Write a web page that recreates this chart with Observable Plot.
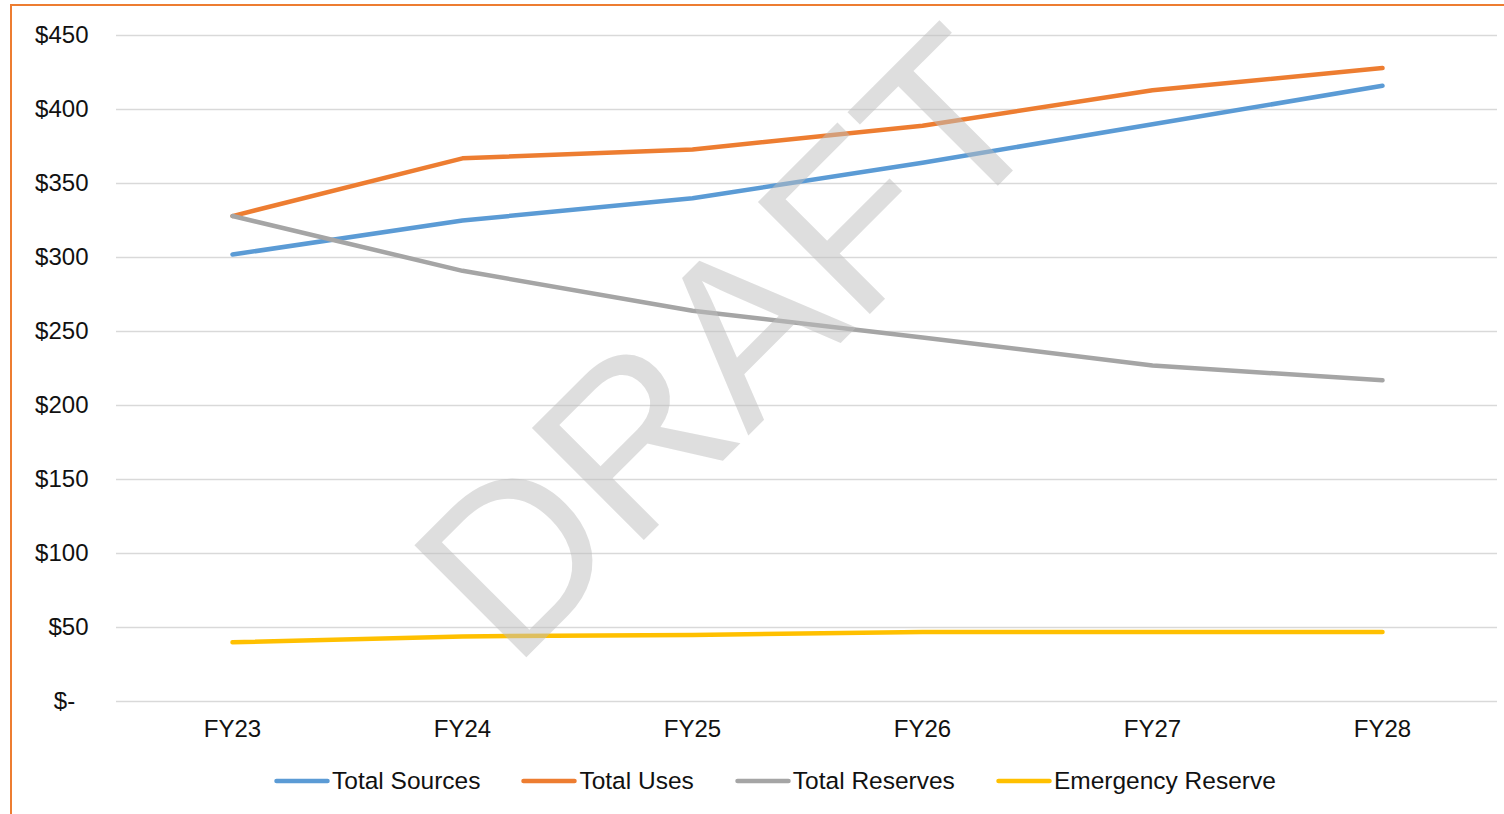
<!DOCTYPE html>
<html>
<head>
<meta charset="utf-8">
<script src="https://cdn.jsdelivr.net/npm/d3@7"></script>
<script src="https://cdn.jsdelivr.net/npm/@observablehq/plot@0.6"></script>
<style>
  html, body { margin: 0; padding: 0; background: #fff; overflow: hidden; }
  body { width: 1504px; height: 814px; position: relative; font-family: "Liberation Sans", Arial, sans-serif; }
  #frame { position: absolute; left: 10px; top: 4px; width: 1520px; height: 840px; border: 2px solid #ED7D31; box-sizing: border-box; }
  #chart { position: absolute; left: 0; top: 0; }
  #legend { position: absolute; left: 274px; top: 767px; display: flex; align-items: center; font-size: 24.5px; color: #111; white-space: nowrap; }
  .item { display: flex; align-items: center; margin-right: 41px; }
  .item svg { margin-right: 2px; }
</style>
</head>
<body>
<div id="frame"></div>
<div id="chart"></div>
<div id="legend"></div>
<script>
const years = ["FY23", "FY24", "FY25", "FY26", "FY27", "FY28"];
const totalSources = [302, 325, 340, 364, 390, 416];
const totalUses = [328, 367, 373, 389, 413, 428];
const totalReserves = [328, 291, 264, 246, 227, 217];
const emergencyReserve = [40, 44, 45, 47, 47, 47];
const seriesNames = ["Total Sources", "Total Uses", "Total Reserves", "Emergency Reserve"];
const seriesColors = ["#5B9BD5", "#ED7D31", "#A5A5A5", "#FFC000"];
const yTicks = [0, 50, 100, 150, 200, 250, 300, 350, 400, 450];
const watermark = "DRAFT";

const seriesValues = [totalSources, totalUses, totalReserves, emergencyReserve];
const data = [];
seriesNames.forEach((name, i) => {
  years.forEach((yr, j) => data.push({ series: name, year: yr, value: seriesValues[i][j] }));
});

const fmt = v => v === 0 ? "$-\u00A0\u00A0" : "$" + d3.format(",")(v);

const chart = Plot.plot({
  width: 1504,
  height: 760,
  marginTop: 35,
  marginBottom: 59,
  marginLeft: 116,
  marginRight: 7,
  style: { fontFamily: "'Liberation Sans', Arial, sans-serif", fontSize: "24px", color: "#111", background: "transparent" },
  x: { type: "point", domain: years, padding: 0.5, label: null },
  y: { domain: [0, 450], label: null },
  color: { domain: seriesNames, range: seriesColors },
  marks: [
    Plot.ruleY(yTicks, { stroke: "#d9d9d9", strokeWidth: 1.5 }),
    Plot.axisY({ ticks: yTicks, tickFormat: fmt, tickSize: 0, tickPadding: 28, label: null, fontSize: 24 }),
    Plot.axisX({ tickSize: 0, tickPadding: 18, label: null, fontSize: 24 }),
    Plot.line(data, {
      x: "year", y: "value", z: "series", stroke: "series",
      strokeWidth: 4.5, strokeLinecap: "round", strokeLinejoin: "round"
    }),
    Plot.text([watermark], {
      frameAnchor: "middle", text: d => d, rotate: -45,
      dx: -75, dy: -21, fontSize: 230, fill: "#bdbdbd", fillOpacity: 0.5,
      fontFamily: "'Liberation Sans', Arial, sans-serif"
    })
  ]
});
document.getElementById("chart").appendChild(chart);

const legend = document.getElementById("legend");
seriesNames.forEach((name, i) => {
  const item = document.createElement("div");
  item.className = "item";
  item.innerHTML = `<svg width="56" height="10"><line x1="2.5" y1="5" x2="53.5" y2="5" stroke="${seriesColors[i]}" stroke-width="4.5" stroke-linecap="round"/></svg><span>${name}</span>`;
  legend.appendChild(item);
});
</script>
</body>
</html>
